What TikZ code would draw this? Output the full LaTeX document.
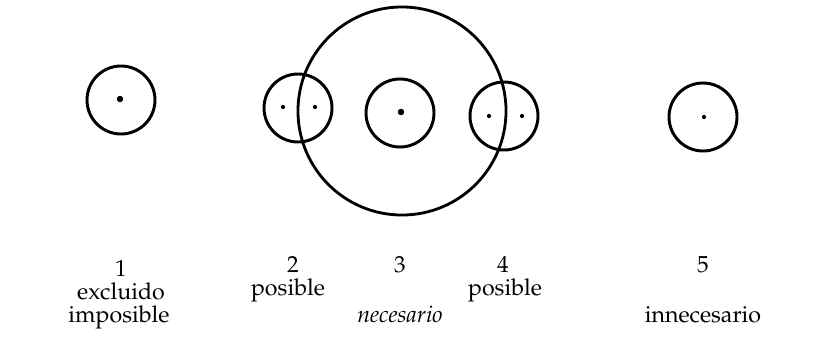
\documentclass[tikz,border=0pt]{standalone}
\usepackage[T1]{fontenc}
\usepackage{mathpazo}
\usepackage{tikz}
\usetikzlibrary{positioning}

\begin{document}
\begin{tikzpicture}[
  x=0.025cm, y=-0.025cm,
  ring/.style={circle, draw, line width=2.1pt, minimum size=1.7cm, inner sep=0pt},
  bigring/.style={circle, draw, line width=2pt, minimum size=5.2cm, inner sep=0pt},
  dot/.style={circle, fill, inner sep=0pt, minimum size=3pt},
  bigdot/.style={dot, minimum size=4.6pt},
  num/.style={anchor=base, font=\fontsize{16.5}{19}\selectfont, inner sep=0pt},
  word/.style={num}
]
\useasboundingbox (0,0) rectangle (815,350);
% circles
\node[bigring] (big) at (402,111) {};
\node[ring] (c1) at (121,100) {};
\node[ring] (c2) at (298,108) {};
\node[ring] (c3) at (400,113) {};
\node[ring] (c4) at (504,116) {};
\node[ring] (c5) at (703,117) {};
% dots
\node[bigdot] (d1) at (120,99) {};
\node[dot] (d2a) at (283,107) {};
\node[dot] (d2b) at (315,107) {};
\node[bigdot] (d3) at (401,112) {};
\node[dot] (d4a) at (489,116) {};
\node[dot] (d4b) at (522,116) {};
\node[dot] (d5) at (704,117) {};
% labels
\node[num] (n1) at (121,276) {1};
\node[word] (w1a) at (121,299) {excluido};
\node[word] (w1b) at (119,322) {imposible};
\node[num] (n2) at (293,272) {2};
\node[word] (w2) at (288,295) {posible};
\node[num] (n3) at (400,272) {3};
\node[word] (w3) at (400,322) {\itshape necesario};
\node[num] (n4) at (503,272) {4};
\node[word] (w4) at (505,295) {posible};
\node[num] (n5) at (703,272) {5};
\node[word] (w5) at (703,322) {innecesario};
\end{tikzpicture}
\end{document}
